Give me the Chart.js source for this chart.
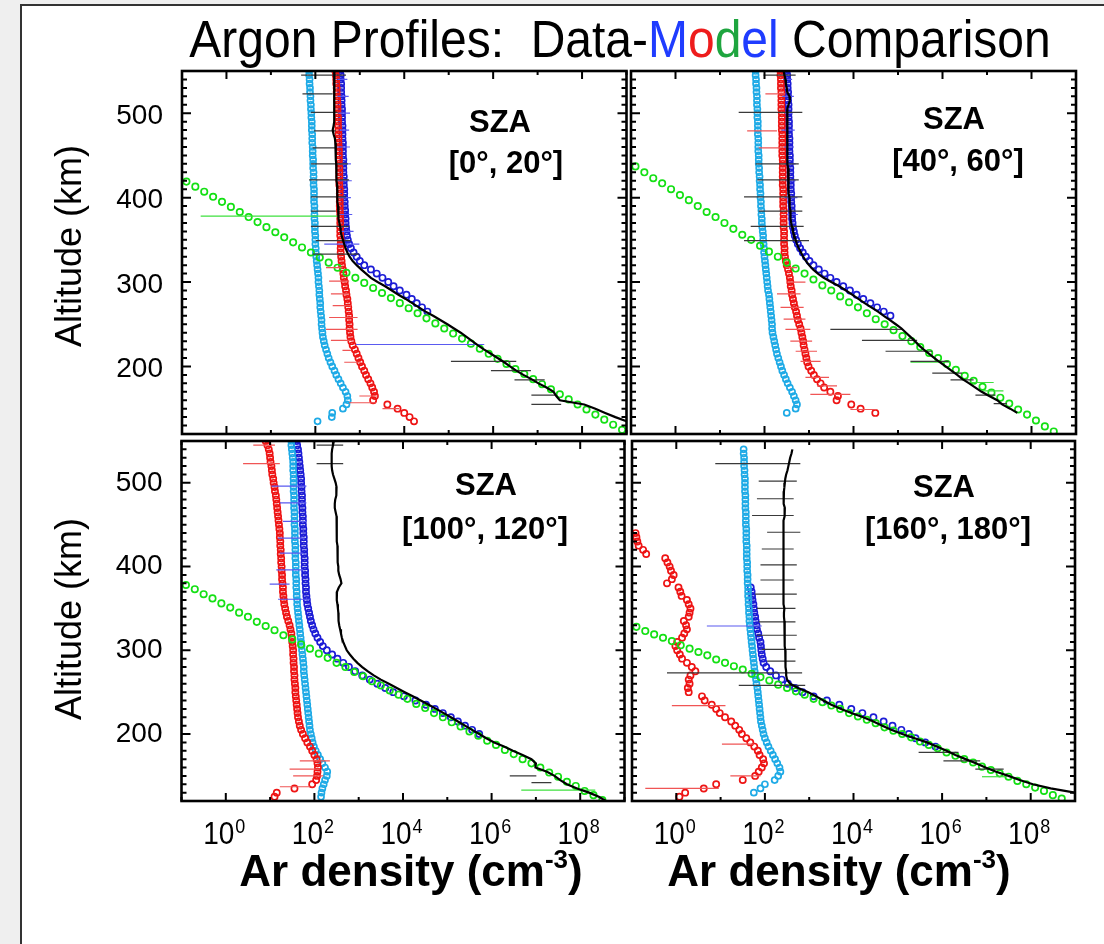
<!DOCTYPE html>
<html>
<head>
<meta charset="utf-8">
<script src="https://cdn.jsdelivr.net/npm/chart.js@4.4.1/dist/chart.umd.min.js"></script>
<style>
html,body{margin:0;padding:0;background:#efefef;}
#page{position:relative;width:1104px;height:944px;overflow:hidden;background:#efefef;}
#sheet{position:absolute;left:20px;top:4px;width:1100px;height:960px;background:#fff;border-left:2px solid #333;border-top:2px solid #333;}
canvas{position:absolute;left:0;top:0;}
svg{position:absolute;left:0;top:0;pointer-events:none;}
</style>
</head>
<body>
<div id="page">
<div id="sheet"></div>
<canvas id="c0" width="1104" height="944"></canvas>
<canvas id="c1" width="1104" height="944"></canvas>
<canvas id="c2" width="1104" height="944"></canvas>
<canvas id="c3" width="1104" height="944"></canvas>
<svg width="1104" height="944" font-family="'Liberation Sans', Arial, Helvetica, sans-serif">
  <text transform="translate(620,57) scale(1,1.08)" x="0" y="0" text-anchor="middle" font-size="48" style="white-space:pre">Argon Profiles:  Data-<tspan fill="#1f3cff">M</tspan><tspan fill="#ee1c1c">o</tspan><tspan fill="#1ea53f">d</tspan><tspan fill="#1f3cff">el</tspan> Comparison</text>
  <text transform="translate(81,246) rotate(-90)" text-anchor="middle" font-size="36">Altitude (km)</text>
  <text transform="translate(81,619) rotate(-90)" text-anchor="middle" font-size="36">Altitude (km)</text>
  <text x="411" y="886" text-anchor="middle" font-size="44" font-weight="bold">Ar density (cm<tspan font-size="26" dy="-18">-3</tspan><tspan dy="18">)</tspan></text>
  <text x="839" y="886" text-anchor="middle" font-size="44" font-weight="bold">Ar density (cm<tspan font-size="26" dy="-18">-3</tspan><tspan dy="18">)</tspan></text>
  <g font-weight="bold" font-size="31" text-anchor="middle" id="sza"></g>
</svg>
</div>
<script>
// ---------- DATA (densities stored as log10 of cm^-3) ----------
const ALT = [550,545,540,535,530,525,520,515,510,505, 500,495,490,485,480,475,470,465,460,455,
             450,445,440,435,430,425,420,415,410,405, 400,395,390,385,380,375,370,365,360,355,
             350,345,340,335,330,325,320,315,310,305, 300,295,290,285,280,275,270,265,260,255,
             250,245,240,235,230,225,220,215,210,205, 200,195,190,185,180,175,170,165,160,155,
             150,145,140,135,130,125,120];

// ---- SZA [0,20] ----
const TL_CYAN = [1.86,1.86,1.87,1.87,1.88,1.88,1.89,1.89,1.90,1.90, 1.91,1.91,1.92,1.92,1.92,1.93,1.93,1.93,1.94,1.94,
                 1.94,1.95,1.95,1.95,1.96,1.96,1.96,1.96,1.97,1.97, 1.97,1.97,1.98,1.98,1.98,1.98,1.99,1.99,1.99,2.00,
                 2.00,2.00,2.01,2.01,2.02,2.03,2.04,2.05,2.06,2.07, 2.07,2.08,2.09,2.09,2.10,2.11,2.11,2.12,2.13,2.14,
                 2.14,2.15,2.16,2.17,2.19,2.21,2.24,2.27,2.30,2.34, 2.38,2.43,2.47,2.52,2.57,2.62,2.68,2.72,2.73,2.70,
                 2.62,2.38,2.37,2.05,null,null,null];
const TL_RED  = [2.45,2.46,2.47,2.47,2.48,2.48,2.49,2.49,2.50,2.50, 2.50,2.51,2.51,2.51,2.52,2.52,2.52,2.52,2.53,2.53,
                 2.53,2.53,2.53,2.54,2.54,2.54,2.54,2.54,2.55,2.55, 2.55,2.55,2.55,2.55,2.56,2.56,2.56,2.56,2.56,2.56,
                 2.57,2.57,2.57,2.57,2.58,2.59,2.60,2.62,2.63,2.64, 2.66,2.67,2.69,2.70,2.72,2.73,2.74,2.75,2.76,2.76,
                 2.77,2.77,2.78,2.79,2.81,2.84,2.89,2.93,2.97,3.01, 3.05,3.10,3.14,3.19,3.24,3.28,3.32,3.34,3.30,3.62,
                 3.85,4.00,4.12,4.22,null,null,null];
const TL_BLUE = [2.56,2.57,2.57,2.58,2.58,2.58,2.59,2.59,2.59,2.60, 2.60,2.60,2.60,2.61,2.61,2.61,2.61,2.62,2.62,2.62,
                 2.62,2.63,2.63,2.63,2.63,2.64,2.64,2.64,2.65,2.65, 2.65,2.66,2.66,2.67,2.67,2.68,2.68,2.69,2.70,2.71,
                 2.73,2.76,2.80,2.86,2.93,3.00,3.10,3.25,3.38,3.51, 3.64,3.76,3.90,4.05,4.17,4.28,4.40,4.52,null,null,
                 null,null,null,null,null,null,null,null,null,null, null,null,null,null,null,null,null,null,null,null,
                 null,null,null,null,null,null,null];
const TL_DATA = [2.43,2.43,2.42,2.42,2.42,2.42,2.43,2.43,2.43,2.42, 2.42,2.43,2.42,2.41,2.39,2.41,2.44,2.45,2.46,2.46,
                 2.46,2.46,2.47,2.47,2.47,2.48,2.48,2.49,2.49,2.49, 2.50,2.50,2.51,2.51,2.52,2.53,2.54,2.56,2.57,2.59,
                 2.62,2.65,2.68,2.72,2.77,2.84,2.93,3.03,3.14,3.25, 3.40,3.57,3.72,3.87,4.03,4.18,4.33,4.48,4.65,4.81,
                 4.97,5.12,5.27,5.40,5.53,5.66,5.80,5.95,6.10,6.25, 6.38,6.52,6.68,6.86,7.02,7.20,7.36,7.42,7.50,8.05,
                 8.30,8.52,8.75,9.00,null,null,null];

// ---- SZA [40,60] ----
const TR_CYAN = [1.80,1.80,1.81,1.81,1.82,1.82,1.83,1.83,1.83,1.84, 1.84,1.84,1.85,1.85,1.85,1.85,1.86,1.86,1.86,1.86,
                 1.87,1.87,1.87,1.88,1.88,1.89,1.89,1.90,1.90,1.91, 1.91,1.92,1.92,1.93,1.93,1.94,1.94,1.95,1.96,1.97,
                 1.97,1.98,1.99,1.99,2.00,2.01,2.02,2.03,2.04,2.05, 2.06,2.07,2.08,2.10,2.11,2.12,2.13,2.14,2.15,2.16,
                 2.17,2.17,2.18,2.20,2.22,2.24,2.26,2.28,2.31,2.34, 2.37,2.40,2.44,2.48,2.52,2.57,2.62,2.66,2.70,2.73,
                 2.70,2.50,null,null,null,null,null];
const TR_RED  = [2.36,2.36,2.37,2.37,2.37,2.38,2.38,2.38,2.38,2.38, 2.39,2.39,2.39,2.39,2.39,2.40,2.40,2.40,2.40,2.40,
                 2.40,2.41,2.41,2.41,2.41,2.41,2.41,2.41,2.42,2.42, 2.42,2.42,2.42,2.43,2.43,2.43,2.43,2.43,2.44,2.44,
                 2.44,2.44,2.45,2.45,2.46,2.48,2.50,2.53,2.55,2.57, 2.58,2.59,2.61,2.62,2.64,2.66,2.68,2.71,2.73,2.75,
                 2.78,2.81,2.83,2.85,2.87,2.88,2.90,2.92,2.94,2.96, 2.99,3.05,3.11,3.18,3.26,3.34,3.48,3.65,3.62,3.95,
                 4.16,4.49,null,null,null,null,null];
const TR_BLUE = [2.50,2.51,2.51,2.52,2.52,2.53,2.53,2.53,2.54,2.54, 2.54,2.54,2.55,2.55,2.55,2.55,2.56,2.56,2.56,2.56,
                 2.57,2.57,2.57,2.58,2.58,2.58,2.59,2.59,2.59,2.60, 2.60,2.60,2.61,2.61,2.62,2.62,2.63,2.64,2.66,2.68,
                 2.71,2.75,2.80,2.86,2.93,3.01,3.10,3.22,3.35,3.48, 3.62,3.77,3.92,4.07,4.22,4.38,4.53,4.68,4.83,null,
                 null,null,null,null,null,null,null,null,null,null, null,null,null,null,null,null,null,null,null,null,
                 null,null,null,null,null,null,null];
const TR_DATA = [2.43,2.45,2.47,2.48,2.50,2.51,2.56,2.57,2.54,2.51, 2.51,2.51,2.51,2.51,2.51,2.52,2.51,2.51,2.52,2.52,
                 2.52,2.52,2.52,2.53,2.53,2.53,2.54,2.54,2.55,2.55, 2.56,2.56,2.57,2.58,2.58,2.59,2.60,2.62,2.64,2.67,
                 2.70,2.73,2.77,2.82,2.87,2.93,3.00,3.09,3.20,3.33, 3.50,3.68,3.83,3.97,4.11,4.25,4.40,4.55,4.68,4.82,
                 4.95,5.08,5.18,5.28,5.38,5.47,5.58,5.70,5.82,5.94, 6.07,6.20,6.33,6.45,6.60,6.74,6.88,7.05,7.23,7.34,
                 7.52,7.68,null,null,null,null,null];

// ---- SZA [100,120] ----
const BL_CYAN = [1.48,1.48,1.49,1.50,1.51,1.52,1.52,1.52,1.53,1.53, 1.53,1.53,1.53,1.54,1.54,1.54,1.54,1.55,1.55,1.55,
                 1.55,1.56,1.56,1.56,1.56,1.57,1.57,1.57,1.57,1.58, 1.58,1.58,1.58,1.59,1.59,1.59,1.60,1.60,1.61,1.61,
                 1.62,1.63,1.64,1.65,1.66,1.67,1.68,1.69,1.70,1.71, 1.72,1.73,1.74,1.75,1.76,1.76,1.77,1.78,1.79,1.80,
                 1.81,1.82,1.83,1.84,1.85,1.86,1.87,1.88,1.89,1.90, 1.92,1.94,1.96,1.99,2.03,2.08,2.13,2.18,2.24,2.29,
                 2.28,2.24,2.21,2.18,2.16,2.15,null];
const BL_RED  = [0.90,0.94,0.97,0.99,1.00,1.01,1.03,1.04,1.05,1.07, 1.08,1.10,1.11,1.13,1.14,1.15,1.16,1.17,1.18,1.19,
                 1.20,1.21,1.22,1.22,1.23,1.23,1.24,1.24,1.25,1.25, 1.26,1.26,1.27,1.27,1.28,1.29,1.29,1.30,1.31,1.32,
                 1.34,1.36,1.38,1.41,1.44,1.46,1.48,1.49,1.50,1.51, 1.52,1.52,1.53,1.53,1.54,1.54,1.55,1.55,1.56,1.57,
                 1.57,1.58,1.59,1.60,1.61,1.62,1.63,1.65,1.67,1.70, 1.74,1.79,1.84,1.90,1.95,2.00,2.05,2.07,2.08,2.07,
                 2.06,2.04,1.95,1.55,1.15,1.10,null];
const BL_BLUE = [1.60,1.61,1.63,1.64,1.65,1.66,1.67,1.68,1.69,1.70, 1.70,1.71,1.71,1.72,1.72,1.72,1.73,1.73,1.74,1.74,
                 1.74,1.75,1.75,1.76,1.76,1.76,1.77,1.77,1.78,1.78, 1.78,1.79,1.79,1.80,1.80,1.81,1.81,1.82,1.83,1.84,
                 1.86,1.88,1.90,1.92,1.95,1.98,2.02,2.07,2.13,2.19, 2.28,2.40,2.52,2.65,2.78,2.92,3.08,3.25,3.42,3.60,
                 3.78,4.02,4.28,4.52,4.72,4.90,5.08,5.24,5.40,5.56, 5.72,null,null,null,null,null,null,null,null,null,
                 null,null,null,null,null,null,null];
const BL_DATA = [2.44,2.42,2.40,2.39,2.39,2.39,2.39,2.40,2.42,2.45, 2.48,2.50,2.50,2.49,2.47,2.46,2.46,2.48,2.50,2.50,
                 2.50,2.50,2.51,2.51,2.51,2.52,2.52,2.52,2.53,2.53, 2.54,2.54,2.56,2.59,2.61,2.55,2.51,2.50,2.51,2.52,
                 2.53,2.54,2.54,2.55,2.56,2.58,2.60,2.62,2.65,2.69, 2.73,2.80,2.88,2.97,3.08,3.20,3.34,3.50,3.68,3.86,
                 4.04,4.22,4.40,4.58,4.75,4.92,5.08,5.24,5.40,5.56, 5.72,5.88,6.06,6.28,6.48,6.70,6.90,7.00,6.99,7.25,
                 7.42,7.55,7.70,7.93,8.20,8.42,8.58];

// ---- SZA [160,180] ----
const BR_CYAN = [null,null,1.52,1.52,1.53,1.53,1.53,1.54,1.54,1.55, 1.55,1.55,1.55,1.56,1.56,1.56,1.56,1.57,1.57,1.57,
                 1.57,1.58,1.58,1.58,1.58,1.59,1.59,1.59,1.59,1.60, 1.60,1.60,1.61,1.61,1.61,1.62,1.62,1.62,1.63,1.63,
                 1.64,1.64,1.65,1.65,1.66,1.67,1.68,1.69,1.70,1.71, 1.72,1.73,1.74,1.75,1.76,1.77,1.78,1.80,1.81,1.83,
                 1.84,1.85,1.86,1.87,1.88,1.89,1.90,1.91,1.93,1.95, 1.97,2.00,2.04,2.08,2.13,2.18,2.23,2.28,2.33,2.35,
                 2.30,2.22,2.00,1.90,1.75,null,null];
const BR_RED  = [null,null,null,null,null,null,null,null,null,null, null,null,null,null,null,null,null,null,null,null,
                 null,null,-0.92,-0.90,-0.88,-0.85,-0.75,-0.68,-0.25,-0.20, -0.15,-0.12,-0.06,-0.10,-0.21,0.05,0.09,0.12,0.24,0.28,
                 0.32,0.30,0.28,0.17,0.22,0.24,0.18,0.13,0.02,-0.02, 0.02,0.08,0.13,0.24,0.35,0.43,0.32,0.28,0.30,0.26,
                 0.28,0.58,0.64,0.80,0.90,0.98,1.10,1.24,1.33,1.42, 1.48,1.58,1.67,1.76,1.84,1.88,1.96,1.98,1.93,1.86,
                 1.78,1.50,0.90,0.62,0.20,0.07,null];
const BR_BLUE = [null,null,null,null,null,null,null,null,null,null, null,null,null,null,null,null,null,null,null,null,
                 null,null,null,null,null,null,null,null,null,null, null,null,null,null,null,1.68,1.70,1.71,1.72,1.74,
                 1.75,1.76,1.78,1.79,1.81,1.82,1.85,1.87,1.90,1.91, 1.92,1.93,1.95,1.97,2.03,2.12,2.25,2.38,2.52,2.68,
                 2.85,3.10,3.40,3.68,3.95,4.20,4.45,4.68,4.88,5.08, 5.25,5.40,5.62,5.85,null,null,null,null,null,null,
                 null,null,null,null,null,null,null];
const BR_DATA = [null,null,2.62,2.60,2.57,2.55,2.53,2.51,2.48,2.46, 2.45,2.44,2.43,2.42,2.42,2.43,2.45,2.45,2.44,2.42,
                 2.42,2.42,2.41,2.41,2.42,2.43,2.42,2.41,2.41,2.42, 2.42,2.42,2.41,2.42,2.43,2.43,2.42,2.42,2.43,2.43,
                 2.44,2.43,2.43,2.44,2.45,2.44,2.44,2.45,2.45,2.45, 2.46,2.46,2.46,2.47,2.47,2.48,2.48,2.50,2.57,2.75,
                 2.98,3.16,3.32,3.50,3.72,3.95,4.22,4.45,4.65,4.85, 5.10,5.38,5.66,5.88,6.10,6.30,6.53,6.76,6.98,7.22,
                 7.50,7.75,8.05,8.45,9.00,null,null];

// ---- Model (green) profiles: shared log10 density grid, altitude per SZA bin ----
const GREEN_LOG = [-0.9,-0.7,-0.5,-0.3,-0.1,0.1,0.3,0.5,0.7,0.9, 1.1,1.3,1.5,1.7,1.9,2.1,2.3,2.5,2.7,2.9,
                   3.1,3.3,3.5,3.7,3.9,4.1,4.3,4.5,4.7,4.9, 5.1,5.3,5.5,5.7,5.9,6.1,6.3,6.5,6.7,6.9,
                   7.1,7.3,7.5,7.7,7.9,8.1,8.3,8.5,8.7,8.9];
const TL_GREEN_ALT = [419,413,407,401,395,389,383,377,371,365, 359,353,347,341,335,329,323,317,311,305,
                      299,293,287,281,275,269,263,257,251,245, 239,233,227,221,215,209,203,197,191,185,
                      179,173,167,161,155,149,143,137,131,125];
const TR_GREEN_ALT = [437,430,423,417,410,403,397,390,383,377, 370,363,356,350,343,336,330,323,316,310,
                      303,296,290,283,276,270,263,256,250,243, 236,230,223,216,210,203,196,189,183,176,
                      169,163,156,149,143,136,129,123,null,null];
const BL_GREEN_ALT = [378,373,367,362,356,351,345,340,334,329, 324,318,313,307,302,296,291,285,280,274,
                      269,263,258,252,247,242,236,231,225,220, 214,209,203,198,192,187,181,176,170,165,
                      160,154,149,143,138,132,127,121,null,null];
const BR_GREEN_ALT = [328,323,319,315,311,306,302,298,294,289, 285,281,277,272,268,264,259,255,251,247,
                      242,238,234,230,225,221,217,213,208,204, 200,196,191,187,183,178,174,170,166,161,
                      157,153,149,144,140,136,132,127,123,null];

// ---- Horizontal error bars: [altitude, log10 low, log10 high] ----
const TL_BAR_BLACK = [[545,1.68,2.69],[523,1.71,2.39],[501,1.90,2.50],[479,1.97,2.46],[459,1.94,2.46],[440,1.90,2.73],[421,1.86,2.76],[401,1.90,2.69],[384,1.90,2.46],[366,1.90,2.76],[349,2.01,2.80],[333,1.94,2.98],[206,5.05,6.52],[195,5.95,6.85],[184,6.48,7.16],[166,6.86,7.42],[155,6.86,7.53]];
const TL_BAR_RED   = [[317,2.24,2.61],[301,2.31,2.76],[286,2.35,2.76],[272,2.39,2.80],[258,2.31,2.95],[244,2.24,2.95],[231,2.35,2.80],[219,2.61,2.80],[205,2.65,3.03],[165,2.99,3.40],[157,2.76,3.36],[150,3.51,3.89]];
const TL_BAR_BLUE  = [[540,2.50,2.72],[520,2.50,2.75],[500,2.52,2.78],[480,2.55,2.76],[460,2.48,2.78],[440,2.52,2.80],[420,2.50,2.82],[400,2.54,2.80],[380,2.55,2.83],[360,2.58,2.86],[345,2.20,2.99],[226,2.91,5.80]];
const TL_BAR_GREEN = [[378,-0.58,2.54]];

const TR_BAR_BLACK = [[545,1.98,2.70],[501,1.42,2.85],[440,1.80,2.77],[421,1.84,2.77],[401,1.54,2.85],[384,1.87,2.85],[366,1.69,2.88],[349,1.54,3.00],[244,3.48,5.09],[231,4.19,5.43],[218,4.72,5.77],[206,5.28,6.14],[192,5.77,6.44],[184,6.18,6.70],[166,6.74,7.19],[156,7.15,7.45]];
const TR_BAR_RED   = [[523,2.02,2.47],[479,1.61,2.28],[459,1.87,2.36],[317,2.47,2.73],[300,2.51,2.92],[286,2.28,2.81],[270,2.36,2.88],[256,2.43,2.92],[244,2.47,3.03],[230,2.58,3.07],[218,2.70,3.18],[206,2.81,3.26],[187,2.92,3.45],[177,3.18,3.63],[167,3.03,3.93],[149,3.93,4.53]];
const TR_BAR_BLUE  = [[540,2.42,2.62],[520,2.40,2.66],[500,2.45,2.62],[480,2.38,2.68],[460,2.44,2.66],[440,2.45,2.70],[420,2.48,2.70],[400,2.45,2.74],[380,2.50,2.75]];
const TR_BAR_GREEN = [[205,5.28,6.18],[181,6.63,7.15],[171,6.85,7.37]];

const BL_BAR_BLACK = [[545,2.05,2.65],[523,2.05,2.65],[150,6.41,7.01],[142,6.90,7.35]];
const BL_BAR_RED   = [[545,0.62,1.11],[523,0.39,1.22],[168,1.67,2.35],[158,1.44,2.12],[150,1.52,2.20],[137,1.22,1.90]];
const BL_BAR_BLUE  = [[496,1.03,1.82],[476,1.22,1.82],[454,1.29,1.82],[434,1.18,1.78],[416,1.22,1.75],[396,1.14,1.75],[379,0.99,1.44],[361,1.18,1.90]];
const BL_BAR_GREEN = [[133,6.67,8.34]];

const BR_BAR_BLACK = [[523,0.88,2.80],[502,1.86,2.72],[481,1.82,2.65],[461,1.71,2.65],[441,2.05,2.80],[421,1.93,2.65],[402,1.90,2.72],[384,1.90,2.65],[367,1.78,2.72],[350,1.82,2.69],[334,1.86,2.69],[318,1.82,2.72],[301,1.93,2.69],[287,2.05,2.69],[273,-0.21,2.84],[258,1.41,2.91],[178,5.47,6.37],[168,6.03,6.86],[158,6.75,7.39]];
const BR_BAR_RED   = [[234,-0.10,1.11],[188,1.03,1.75],[150,1.22,1.90],[135,-0.70,0.96]];
const BR_BAR_BLUE  = [[329,0.69,1.93]];
const BR_BAR_GREEN = [[149,6.90,7.46]];

// ---- axes ----
const X_TICK_VALUES = [1e-1,1e0,1e1,1e2,1e3,1e4,1e5,1e6,1e7,1e8,1e9];
const X_TICK_BASES  = ['','10','','10','','10','','10','','10',''];
const X_TICK_EXPS   = ['','0','','2','','4','','6','','8',''];
const Y_TICK_VALUES = [200,300,400,500];
const Y_TICK_LABELS = ['200','300','400','500'];
const Y_MIN = 120, Y_MAX = 550;
const SZA_LABELS = ['[0\u00B0, 20\u00B0]','[40\u00B0, 60\u00B0]','[100\u00B0, 120\u00B0]','[160\u00B0, 180\u00B0]'];

// ---------- rendering ----------
const COLORS = {cyan:'#1eaae6', red:'#ee1414', blue:'#1c1cd6', green:'#14e014', black:'#000000',
                barBlack:'#3a3a3a', barRed:'#f05555', barBlue:'#5a5af0', barGreen:'#3ee03e'};
const FONT = "'Liberation Sans', Arial, Helvetica, sans-serif";

function profile(alts, logs){
  const out = [];
  for (let i = 0; i < alts.length; i++){
    if (logs[i] !== null && alts[i] !== null) out.push({x: Math.pow(10, logs[i]), y: alts[i]});
  }
  return out;
}
function bars(list){
  const out = [];
  list.forEach(b => { out.push({x: Math.pow(10,b[1]), y: b[0]}, {x: Math.pow(10,b[2]), y: b[0]}, {x: null, y: null}); });
  return out;
}
function circles(label, data, color, order, r){
  return {label, data, showLine:false, borderColor:color, backgroundColor:'rgba(0,0,0,0)',
          pointRadius:r, pointBorderWidth:1.7, pointHoverRadius:r, order};
}
function barSet(label, data, color){
  return {label, data, showLine:true, spanGaps:false, borderColor:color, borderWidth:1.2,
          pointRadius:0, pointHoverRadius:0, order:1};
}

// frame, inward ticks, and "10^n" tick labels placed with the x scale
const frameTicks = {
  id:'frameTicks',
  afterDraw(chart, args, opts){
    const {ctx, chartArea:a, scales:{x, y}} = chart;
    ctx.save();
    ctx.strokeStyle = '#000';
    ctx.lineWidth = 2;
    ctx.beginPath();
    X_TICK_VALUES.forEach((v, i) => {
      const px = x.getPixelForValue(v);
      const len = X_TICK_BASES[i] ? 8 : 4;
      ctx.moveTo(px, a.bottom); ctx.lineTo(px, a.bottom - len);
      ctx.moveTo(px, a.top); ctx.lineTo(px, a.top + len);
    });
    for (let v = Y_MIN; v <= Y_MAX; v += 10){
      const py = y.getPixelForValue(v);
      const len = (v % 100 === 0) ? 9 : 5;
      ctx.moveTo(a.left, py); ctx.lineTo(a.left + len, py);
      ctx.moveTo(a.right, py); ctx.lineTo(a.right - len, py);
    }
    ctx.stroke();
    ctx.lineWidth = 2.6;
    ctx.strokeRect(a.left, a.top, a.right - a.left, a.bottom - a.top);

    if (opts.showX){
      ctx.fillStyle = '#000';
      ctx.textBaseline = 'alphabetic';
      ctx.textAlign = 'left';
      X_TICK_VALUES.forEach((v, i) => {
        if (!X_TICK_BASES[i]) return;
        const px = x.getPixelForValue(v);
        ctx.font = '28px ' + FONT;
        const wb = ctx.measureText(X_TICK_BASES[i]).width;
        ctx.font = '18px ' + FONT;
        const we = ctx.measureText(X_TICK_EXPS[i]).width;
        const x0 = px - (wb + we) / 2 - 2;
        ctx.save();
        ctx.translate(x0, a.bottom + 43);
        ctx.scale(1, 1.15);
        ctx.font = '28px ' + FONT;
        ctx.fillText(X_TICK_BASES[i], 0, 0);
        ctx.font = '18px ' + FONT;
        ctx.fillText(X_TICK_EXPS[i], wb + 1, -10);
        ctx.restore();
      });
    }
    ctx.restore();
  }
};

const PANELS = [
  {id:'c0', rect:[182,71,626.5,434], showX:false, showY:true, yOff:3,
   cyan:TL_CYAN, red:TL_RED, blue:TL_BLUE, data:TL_DATA, gAlt:TL_GREEN_ALT,
   bk:TL_BAR_BLACK, br:TL_BAR_RED, bb:TL_BAR_BLUE, bg:TL_BAR_GREEN, sza:SZA_LABELS[0], lab:[500,132,506,173]},
  {id:'c1', rect:[631,71,1076,434], showX:false, showY:false, yOff:3,
   cyan:TR_CYAN, red:TR_RED, blue:TR_BLUE, data:TR_DATA, gAlt:TR_GREEN_ALT,
   bk:TR_BAR_BLACK, br:TR_BAR_RED, bb:TR_BAR_BLUE, bg:TR_BAR_GREEN, sza:SZA_LABELS[1], lab:[954,129,958,171]},
  {id:'c2', rect:[181.5,441,624.5,801], showX:true, showY:true, yOff:0,
   cyan:BL_CYAN, red:BL_RED, blue:BL_BLUE, data:BL_DATA, gAlt:BL_GREEN_ALT,
   bk:BL_BAR_BLACK, br:BL_BAR_RED, bb:BL_BAR_BLUE, bg:BL_BAR_GREEN, sza:SZA_LABELS[2], lab:[486,495,485,539]},
  {id:'c3', rect:[632,441,1075,801], showX:true, showY:false, yOff:0,
   cyan:BR_CYAN, red:BR_RED, blue:BR_BLUE, data:BR_DATA, gAlt:BR_GREEN_ALT,
   bk:BR_BAR_BLACK, br:BR_BAR_RED, bb:BR_BAR_BLUE, bg:BR_BAR_GREEN, sza:SZA_LABELS[3], lab:[944,497,948,539]}
];

const YW = 100, XH = 60, W = 1104, H = 944;
const szaGroup = document.getElementById('sza');

PANELS.forEach(p => {
  const [L, T, R, B] = p.rect;
  const datasets = [
    {label:'Data', data:profile(ALT, p.data), showLine:true, borderColor:COLORS.black, borderWidth:2.2,
     pointRadius:0, pointHoverRadius:0, order:0},
    barSet('Data error', bars(p.bk), COLORS.barBlack),
    barSet('Model red error', bars(p.br), COLORS.barRed),
    barSet('Model blue error', bars(p.bb), COLORS.barBlue),
    barSet('Model green error', bars(p.bg), COLORS.barGreen),
    circles('Model green', profile(p.gAlt, GREEN_LOG), COLORS.green, 2, 3.2),
    circles('Model red', profile(ALT, p.red), COLORS.red, 3, 3.1),
    circles('Model light blue', profile(ALT, p.cyan), COLORS.cyan, 4, 3.0),
    circles('Model blue', profile(ALT, p.blue), COLORS.blue, 5, 3.1)
  ];
  new Chart(document.getElementById(p.id), {
    type:'scatter',
    data:{datasets},
    plugins:[frameTicks],
    options:{
      responsive:false, animation:false, devicePixelRatio:1,
      layout:{padding:{left:L - YW, top:T, right:W - R, bottom:H - B - XH}},
      plugins:{legend:{display:false}, tooltip:{enabled:false}, frameTicks:{showX:p.showX}},
      events:[],
      scales:{
        x:{type:'logarithmic', position:'bottom', min:0.1, max:1e9,
           afterBuildTicks:s => { s.ticks = X_TICK_VALUES.map(v => ({value:v})); },
           afterFit:s => { s.height = XH; },
           grid:{display:false, drawTicks:false}, border:{display:false},
           ticks:{display:false}},
        y:{type:'linear', position:'left', min:Y_MIN, max:Y_MAX,
           afterBuildTicks:s => { s.ticks = Y_TICK_VALUES.map(v => ({value:v})); },
           afterFit:s => { s.width = YW; },
           grid:{display:false, drawTicks:false}, border:{display:false},
           ticks:{display:p.showY, padding:19, labelOffset:p.yOff, color:'#000',
                  font:{family:FONT, size:28}, callback:(v, i) => Y_TICK_LABELS[i]}}
      }
    }
  });
  const ns = 'http://www.w3.org/2000/svg';
  const t1 = document.createElementNS(ns, 'text');
  t1.setAttribute('x', p.lab[0]); t1.setAttribute('y', p.lab[1]); t1.textContent = 'SZA';
  const t2 = document.createElementNS(ns, 'text');
  t2.setAttribute('x', p.lab[2]); t2.setAttribute('y', p.lab[3]); t2.textContent = p.sza;
  szaGroup.appendChild(t1); szaGroup.appendChild(t2);
});
</script>
</body>
</html>
